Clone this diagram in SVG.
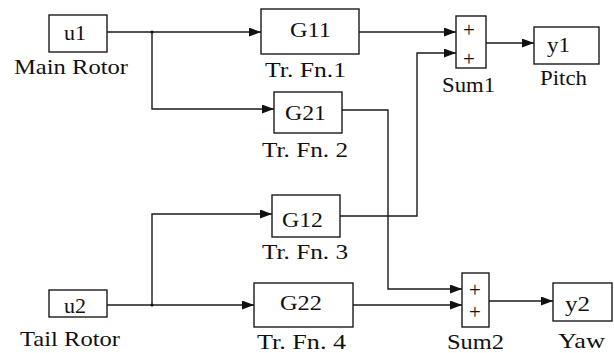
<svg xmlns="http://www.w3.org/2000/svg" width="614" height="353" viewBox="0 0 614 353">
<style>
.b{fill:#fff;stroke:#1a1a1a;stroke-width:1.4}
.t{font-size:22px;fill:#111}
.p{font-size:21px;fill:#111}
.c{fill:none;stroke:#1a1a1a;stroke-width:1.4}
</style>
<defs>
<marker id="ah" markerWidth="12" markerHeight="9" refX="12" refY="4.5" orient="auto" markerUnits="userSpaceOnUse">
<path d="M0,0 L12,4.5 L0,9 Z" fill="#111"/>
</marker>
</defs>
<rect width="614" height="353" fill="#fff"/>
<g id="connectors">
<path class="c" d="M107,32 H261" marker-end="url(#ah)"/>
<path class="c" d="M152,32 V109 H274" marker-end="url(#ah)"/>
<path class="c" d="M359,32 H456" marker-end="url(#ah)"/>
<path class="c" d="M342,110 H388 V289 H462" marker-end="url(#ah)"/>
<path class="c" d="M340,216 H417 V53 H456" marker-end="url(#ah)"/>
<path class="c" d="M107,305 H254" marker-end="url(#ah)"/>
<path class="c" d="M152,305 V214 H272" marker-end="url(#ah)"/>
<path class="c" d="M353,305 H462" marker-end="url(#ah)"/>
<path class="c" d="M486,43 H534" marker-end="url(#ah)"/>
<path class="c" d="M489,301 H553" marker-end="url(#ah)"/>
<circle cx="152" cy="32" r="1.6" fill="#111"/>
<circle cx="152" cy="305" r="1.6" fill="#111"/>
</g>
<g font-family="Liberation Serif, Times New Roman, serif">
<g id="u1">
<rect class="b" x="49" y="15" width="58" height="37"/>
<text class="t" x="75" y="40" text-anchor="middle">u1</text>
<text class="t" x="14" y="74" textLength="114" lengthAdjust="spacingAndGlyphs">Main Rotor</text>
</g>
<g id="u2">
<rect class="b" x="49" y="290" width="58" height="27"/>
<text class="t" x="75" y="313" text-anchor="middle">u2</text>
<text class="t" x="20" y="346" textLength="100" lengthAdjust="spacingAndGlyphs">Tail Rotor</text>
</g>
<g id="G11">
<rect class="b" x="261" y="9" width="98" height="45"/>
<text class="t" x="290" y="37" textLength="41" lengthAdjust="spacingAndGlyphs">G11</text>
<text class="t" x="265" y="77" textLength="81" lengthAdjust="spacingAndGlyphs">Tr. Fn.1</text>
</g>
<g id="G21">
<rect class="b" x="274" y="92" width="68" height="41"/>
<text class="t" x="285" y="120" textLength="41" lengthAdjust="spacingAndGlyphs">G21</text>
<text class="t" x="262" y="157" textLength="86" lengthAdjust="spacingAndGlyphs">Tr. Fn. 2</text>
</g>
<g id="G12">
<rect class="b" x="272" y="195" width="68" height="42"/>
<text class="t" x="282" y="227" textLength="41" lengthAdjust="spacingAndGlyphs">G12</text>
<text class="t" x="262" y="259" textLength="86" lengthAdjust="spacingAndGlyphs">Tr. Fn. 3</text>
</g>
<g id="G22">
<rect class="b" x="254" y="283" width="99" height="44"/>
<text class="t" x="280" y="310" textLength="42" lengthAdjust="spacingAndGlyphs">G22</text>
<text class="t" x="257" y="349" textLength="89" lengthAdjust="spacingAndGlyphs">Tr. Fn. 4</text>
</g>
<g id="Sum1">
<rect class="b" x="456" y="16" width="30" height="52"/>
<text class="p" x="469" y="37" text-anchor="middle">+</text>
<text class="p" x="469" y="66" text-anchor="middle">+</text>
<text class="t" x="442" y="92" textLength="53" lengthAdjust="spacingAndGlyphs">Sum1</text>
</g>
<g id="Sum2">
<rect class="b" x="462" y="273" width="27" height="54"/>
<text class="p" x="475" y="297" text-anchor="middle">+</text>
<text class="p" x="475" y="319" text-anchor="middle">+</text>
<text class="t" x="447" y="349" textLength="57" lengthAdjust="spacingAndGlyphs">Sum2</text>
</g>
<g id="y1">
<rect class="b" x="534" y="27" width="65" height="37"/>
<text class="t" x="547" y="52" textLength="23" lengthAdjust="spacingAndGlyphs">y1</text>
<text class="t" x="540" y="85" textLength="47" lengthAdjust="spacingAndGlyphs">Pitch</text>
</g>
<g id="y2">
<rect class="b" x="553" y="283" width="59" height="38"/>
<text class="t" x="565" y="311" textLength="25" lengthAdjust="spacingAndGlyphs">y2</text>
<text class="t" x="558" y="348" textLength="47" lengthAdjust="spacingAndGlyphs">Yaw</text>
</g>
</g>
</svg>
